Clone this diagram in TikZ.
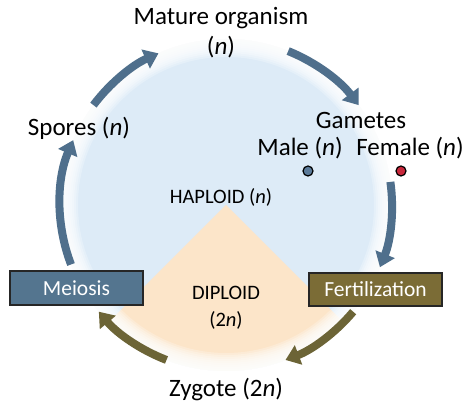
\documentclass[tikz,border=0pt]{standalone}
\usepackage{fontspec}
\setmainfont{Carlito}
\usetikzlibrary{arrows.meta}
\definecolor{hapblue}{RGB}{221,235,247}
\definecolor{dipcol}{RGB}{252,229,201}
\definecolor{arrblue}{RGB}{79,111,140}
\definecolor{arrolive}{RGB}{108,100,54}
\definecolor{meiofill}{RGB}{84,117,143}
\definecolor{fertfill}{RGB}{123,108,54}
\definecolor{maledot}{RGB}{91,122,153}
\definecolor{femdot}{RGB}{200,40,60}
\begin{document}
\begin{tikzpicture}[x=1pt,y=1pt,
  arr/.style={line width=8pt, -{Triangle[width=20pt,length=14pt]}},
  big/.style={font=\fontsize{25}{28}\selectfont, inner sep=0pt},
  mid/.style={font=\fontsize{20.5}{24}\selectfont, inner sep=0pt},
  procbox/.style={draw=black!85, line width=1.5pt, minimum width=133pt, minimum height=34pt, text=white, font=\fontsize{21.5}{24}\selectfont, inner sep=0pt},
  gamdot/.style={circle, draw=black, line width=1.2pt, minimum size=10pt, inner sep=0pt}]
\useasboundingbox (0,0) rectangle (472,417);
\coordinate (c) at (226,212);
% background disc
\fill[hapblue] (c) circle (166pt);
\begin{scope}
  \clip (c) circle (166pt);
  \fill[dipcol] (c) -- ++(-135:220pt) arc(-135:-45:220pt) -- cycle;
\end{scope}
% soft edge
\foreach \r in {148,150,...,166}
  \fill[white,opacity=0.25,even odd rule] (c) circle (\r pt) (c) circle (185pt);
% cycle arrows
\coordinate (s1) at ([shift={(143:166pt)}]c);
\coordinate (s2) at ([shift={(68:166pt)}]c);
\coordinate (s3) at ([shift={(8:166pt)}]c);
\coordinate (s4) at ([shift={(-40:166pt)}]c);
\coordinate (s5) at ([shift={(-111:166pt)}]c);
\coordinate (s6) at ([shift={(-159:166pt)}]c);
\draw[arr, arrblue] (s1) arc(143:114:166pt);
\draw[arr, arrblue] (s2) arc(68:37:166pt);
\draw[arr, arrblue] (s3) arc(8:-22:166pt);
\draw[arr, arrolive] (s4) arc(-40:-69:166pt);
\draw[arr, arrolive] (s5) arc(-111:-140:166pt);
\draw[arr, arrblue] (s6) arc(-159:-203:166pt);
% labels
\node[big] (mature) at (221,399) {Mature organism};
\node[big] (maturen) at (221,370) {(\textit{n})};
\node[big] (spores) at (79,289) {Spores (\textit{n})};
\node[big] (gametes) at (361,297) {Gametes};
\node[big] (male) at (300,269) {Male (\textit{n})};
\node[big] (female) at (410,269) {Female (\textit{n})};
\node[gamdot, fill=maledot] (mdot) at (308,246) {};
\node[gamdot, fill=femdot] (fdot) at (401,246) {};
\node[mid] (haploid) at (221,220) {HAPLOID (\textit{n})};
\node[mid] (diploid) at (226,124) {DIPLOID};
\node[mid] (diploidn) at (226,97) {(2\textit{n})};
\node[big] (zygote) at (226,27) {Zygote (2\textit{n})};
\node[procbox, fill=meiofill] (meiosis) at (76.5,129) {Meiosis};
\node[procbox, fill=fertfill, minimum height=33pt] (fert) at (375.5,127.5) {Fertilization};
\end{tikzpicture}
\end{document}
